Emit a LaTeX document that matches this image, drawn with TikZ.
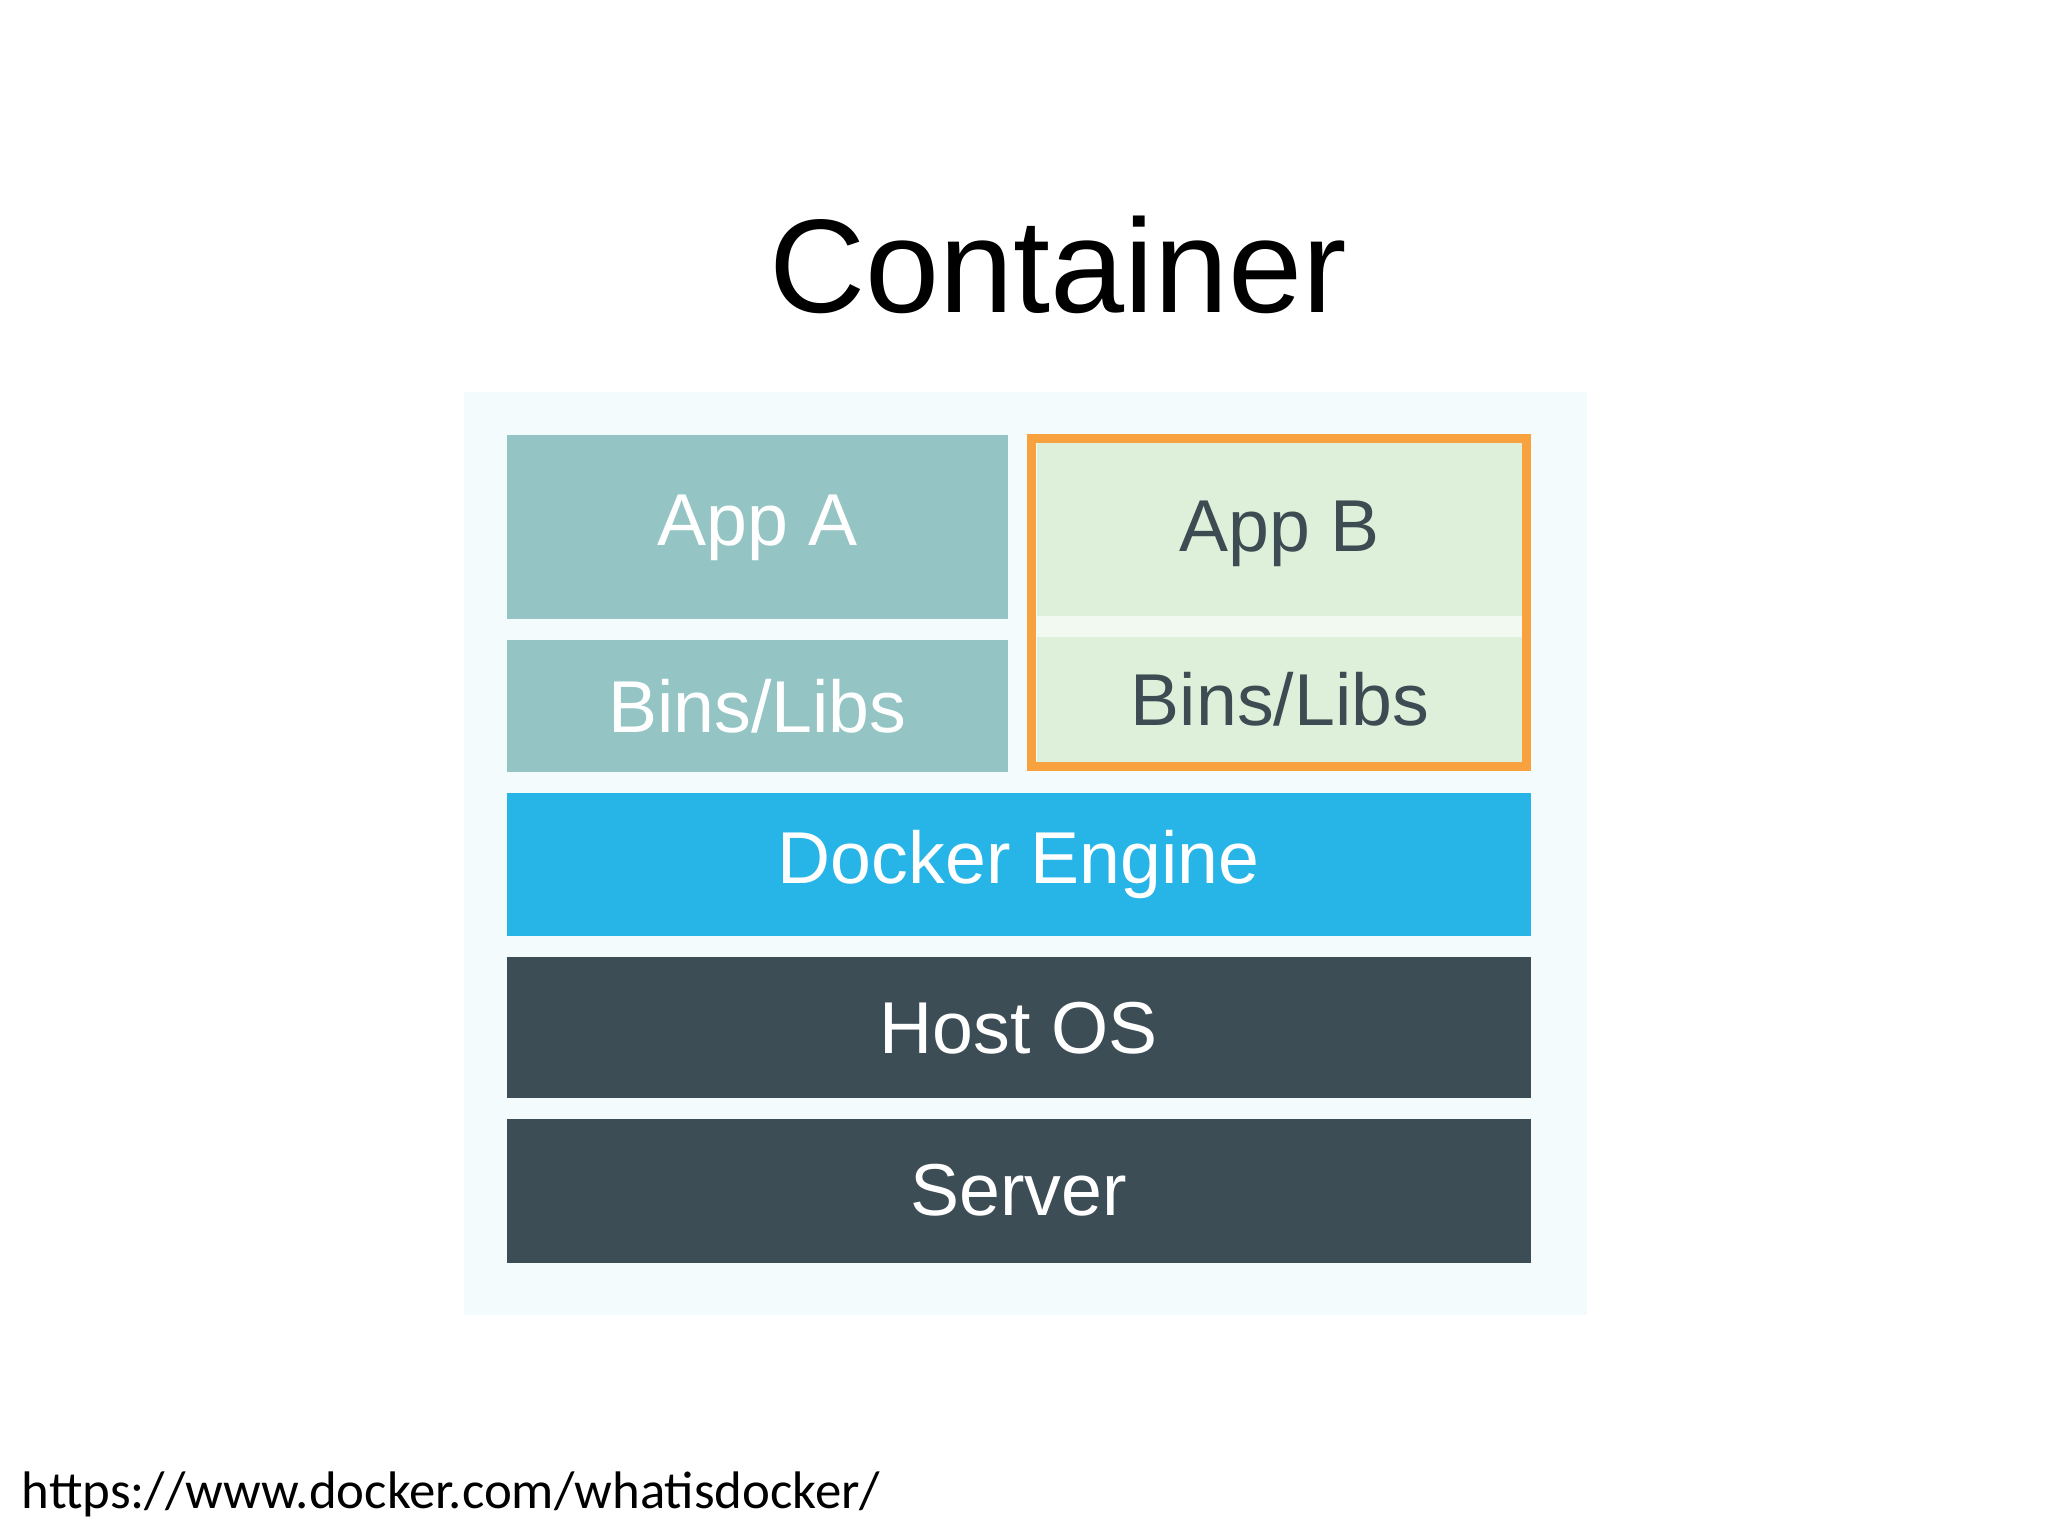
\documentclass[tikz,border=0pt]{standalone}
\usepackage{fontspec}
\setmainfont{Liberation Sans}
\newfontfamily\urlfont{Carlito}
\definecolor{panel}{HTML}{F3FBFD}
\definecolor{appa}{HTML}{94C5C4}
\definecolor{appb}{HTML}{DFF0DA}
\definecolor{engine}{HTML}{27B5E8}
\definecolor{host}{HTML}{3D4D55}
\definecolor{orng}{HTML}{F8A23F}
\definecolor{dtext}{HTML}{3D4B52}
\begin{document}
\begin{tikzpicture}[x=0.01cm,y=-0.01cm,
  blk/.style={draw=none,inner sep=0pt,font=\fontsize{16}{16}\selectfont},
]
\useasboundingbox (0,0) rectangle (1568,1176);
\fill[white] (0,0) rectangle (1568,1176);
\node[font=\fontsize{29}{29}\selectfont] (title) at (810,203) {Container};
\fill[panel] (355,300) rectangle (1215,1007);
\fill[appa] (388,333) rectangle (772,474);
\node[blk,text=white] (appA) at (580,404) {App A};
\fill[appa] (388,490) rectangle (772,591);
\node[blk,text=white] (binsA) at (580,541) {Bins/Libs};
\fill[appb] (794,339) rectangle (1166,472);
\fill[appb] (794,488) rectangle (1166,584);
\fill[white!60!appb] (794,472) rectangle (1166,488);
\draw[orng,line width=2pt] (790,336) rectangle (1169,587);
\node[blk,text=dtext] (appB) at (980,409) {App B};
\node[blk,text=dtext] (binsB) at (980,535) {Bins/Libs};
\fill[engine] (388,607) rectangle (1172,717);
\node[blk,text=white] (eng) at (780,662) {Docker Engine};
\fill[host] (388,733) rectangle (1172,841);
\node[blk,text=white] (os) at (780,787) {Host OS};
\fill[host] (388,857) rectangle (1172,967);
\node[blk,text=white] (srv) at (780,911) {Server};
\node[anchor=west,font=\urlfont\fontsize{11.5}{12}\selectfont,inner sep=0pt] (url) at (16,1144) {https://www.docker.com/whatisdocker/};
\end{tikzpicture}
\end{document}
